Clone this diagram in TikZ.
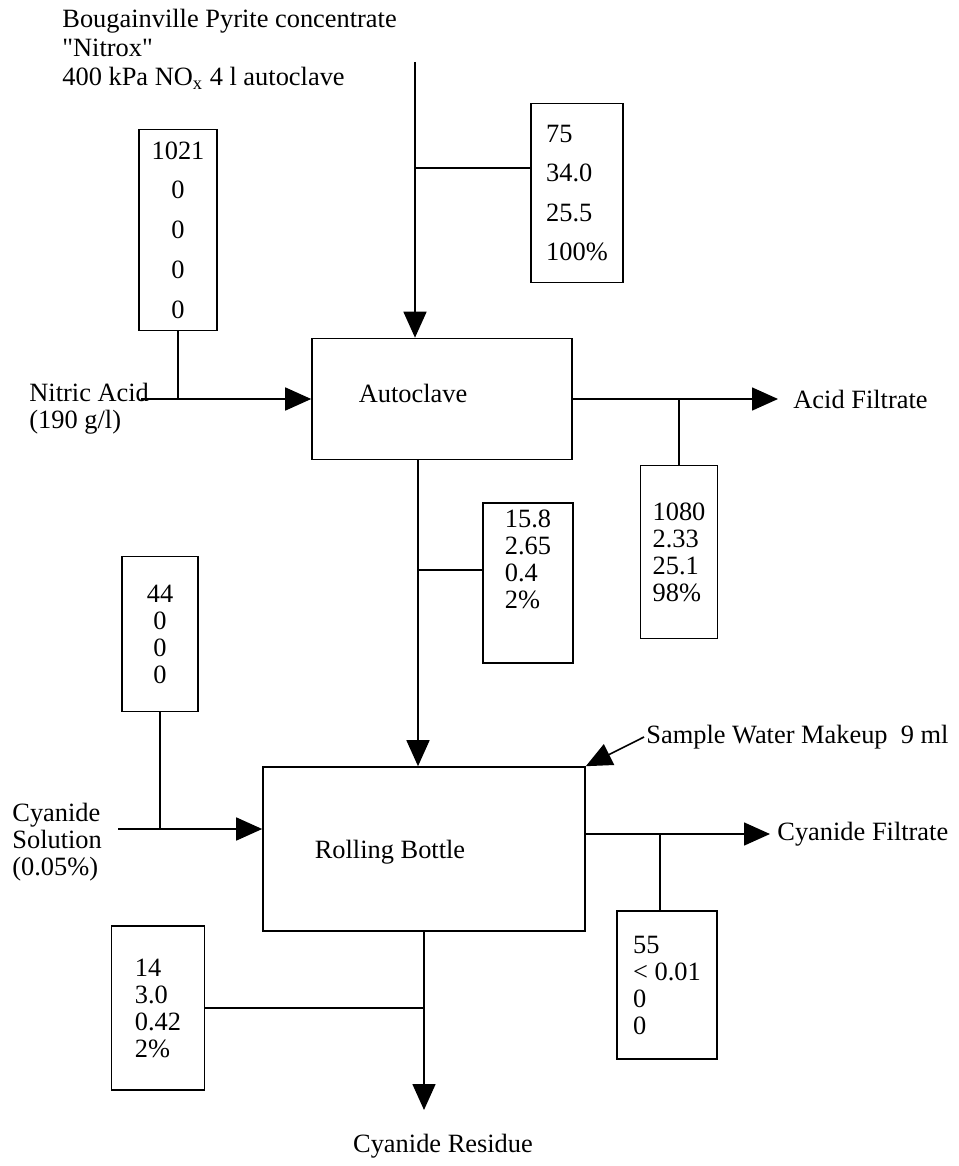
\documentclass[tikz,border=0pt]{standalone}
\usepackage{fontspec}
\setmainfont{Liberation Serif}
\usetikzlibrary{arrows.meta}
\newcommand\plainquote{\XeTeXglyph\XeTeXcharglyph"22\relax}

\begin{document}
\begin{tikzpicture}[x=0.5pt,y=-0.5pt,
    every node/.style={font=\fontsize{13.2}{13.5}\selectfont},
    unit/.style={draw,line width=0.8pt,inner sep=0pt},
    tally/.style={draw,line width=0.8pt,align=left,inner sep=0pt},
    flow/.style={line width=0.8pt,-{Triangle[length=13pt,width=11.5pt]}},
    pipe/.style={line width=0.8pt}]
    \useasboundingbox (0,0) rectangle (958,1166);

    \node [anchor=north west,align=left,inner sep=0pt,font=\fontsize{13.2}{14.5}\selectfont] (title) at (62,9)
        {Bougainville Pyrite concentrate\\\plainquote Nitrox\plainquote\\400 kPa NO\textsubscript{x} 4 l autoclave};

    % process units
    \node [unit,minimum width=130pt,minimum height=60.5pt] (autoclave) at (442,399) {};
    \node [inner sep=0pt] (autoclavelbl) at (413,393) {Autoclave};
    \node [unit,minimum width=161pt,minimum height=82pt] (rolling) at (424,849) {};
    \node [inner sep=0pt] (rollinglbl) at (390,852) {Rolling Bottle};

    % stream figures
    \node [tally,align=center,minimum width=39pt,minimum height=100.5pt] (box1021) at (178,230)
        {1021\\[6.4pt]0\\[6.4pt]0\\[6.4pt]0\\[6.4pt]0};
    \node [tally,minimum width=46pt,minimum height=89.5pt] (box75) at (577,193)
        {75\\[6.2pt]34.0\\[6.2pt]25.5\\[6.2pt]100\%};
    \node [tally,minimum width=38.5pt,minimum height=86.5pt] (box1080) at (679,552)
        {1080\\2.33\\25.1\\98\%};
    \node [tally,minimum width=45pt,minimum height=80pt] (box158) at (528,583)
        {15.8\\2.65\\0.4\\2\%\\[10pt]\mbox{}};
    \node [tally,align=center,minimum width=38pt,minimum height=77.5pt] (box44) at (160,634)
        {44\\0\\0\\0};
    \node [tally,minimum width=50pt,minimum height=74pt] (box55) at (667,985)
        {55\\< 0.01\\0\\0};
    \node [tally,minimum width=46.5pt,minimum height=82pt] (box14) at (158,1008)
        {14\\3.0\\0.42\\2\%};

    % stream names
    \node [anchor=north west,align=left,inner sep=0pt] (nitric) at (29,383) {Nitric Acid\\(190 g/l)};
    \node [anchor=west,inner xsep=7.5pt,inner ysep=0pt] (acidf) at (778,399) {Acid Filtrate};
    \node [anchor=north west,align=left,inner sep=0pt] (cyansol) at (12,803) {Cyanide\\Solution\\(0.05\%)};
    \node [anchor=west,inner sep=1pt] (water) at (644,737) {Sample Water Makeup~~9 ml};
    \node [anchor=west,inner xsep=3.5pt,inner ysep=0pt] (cyanf) at (770,834) {Cyanide Filtrate};
    \node [anchor=north,inner xsep=0pt,inner ysep=12pt] (residue) at (443,1110) {Cyanide Residue};

    \coordinate (feed) at (415,62);
    \coordinate (feedjoin) at (415,168);
    \coordinate (nitricin) at (141,399);
    \coordinate (acjoin) at (418,570);
    \coordinate (cyanin) at (118,829);
    \coordinate (cfjoin) at (660,834);

    % feed to autoclave
    \draw [flow] (feed) -- (feed |- autoclave.north);
    \draw [pipe] (feedjoin) -- (feedjoin -| box75.west);
    \draw [pipe] (box1021.south) -- (box1021.south |- nitricin);
    \draw [flow] (nitricin) -- (autoclave.west);

    % autoclave products
    \draw [flow] (autoclave.east) -- (acidf.west);
    \draw [pipe] (box1080.north |- autoclave.east) -- (box1080.north);
    \draw [flow] ([xshift=-12pt]autoclave.south) -- ([xshift=-12pt]autoclave.south |- rolling.north);
    \draw [pipe] (acjoin) -- (acjoin -| box158.west);

    % feed to rolling bottle
    \draw [pipe] (box44.south) -- (box44.south |- cyanin);
    \draw [flow] (cyanin) -- (cyanin -| rolling.west);
    \draw [flow] (water.west) -- (rolling.north east);

    % rolling bottle products
    \draw [flow] (rolling.east |- cfjoin) -- (cyanf.west);
    \draw [pipe] (cfjoin) -- (cfjoin |- box55.north);
    \draw [flow] (rolling.south) -- (rolling.south |- residue.north);
    \draw [pipe] (box14.east) -- (box14.east -| rolling.south);
\end{tikzpicture}
\end{document}
